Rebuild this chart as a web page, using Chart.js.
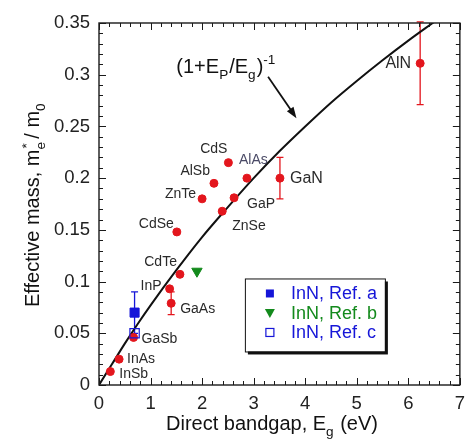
<!DOCTYPE html>
<html>
<head>
<meta charset="utf-8">
<script src="https://cdn.jsdelivr.net/npm/chart.js@4.4.1/dist/chart.umd.min.js"></script>
<style>
  html, body { margin: 0; padding: 0; background: #fff; }
  #wrap { width: 473px; height: 440px; }
</style>
</head>
<body>
<div id="wrap"><canvas id="chart"></canvas></div>
<script>
// Electron effective mass vs direct bandgap
const materials = ['InSb', 'InAs', 'GaSb', 'InP', 'GaAs', 'CdTe', 'CdSe', 'ZnTe', 'AlSb', 'ZnSe', 'GaP', 'CdS', 'AlAs', 'GaN', 'AlN'];
const bandgap = [0.22, 0.39, 0.67, 1.37, 1.40, 1.57, 1.51, 2.00, 2.23, 2.39, 2.62, 2.51, 2.87, 3.51, 6.23];
const mass = [0.013, 0.025, 0.046, 0.093, 0.079, 0.107, 0.148, 0.180, 0.195, 0.168, 0.181, 0.215, 0.200, 0.200, 0.311];
const massErr = [0, 0, 0, 0, 0.011, 0, 0, 0, 0, 0, 0, 0, 0, 0.02, 0.04];

const innLabels = ['InN, Ref. a', 'InN, Ref. b', 'InN, Ref. c'];
const innBandgap = [0.69, 1.90, 0.69];
const innMass = [0.07, 0.11, 0.05];
const innErr = [0.02, 0, 0];

// (1+Ep/Eg)^-1 curve
const curveEg = [0, 0.25, 0.5, 0.75, 1, 1.5, 2, 2.5, 3, 3.5, 4, 4.5, 5, 5.5, 6, 6.5];
const curveMass = [0, 0.020, 0.040, 0.059, 0.077, 0.111, 0.143, 0.172, 0.200, 0.226, 0.250, 0.273, 0.294, 0.314, 0.333, 0.351];

const xTicks = [0, 1, 2, 3, 4, 5, 6, 7];
const yTicks = [0, 0.05, 0.1, 0.15, 0.2, 0.25, 0.3, 0.35];

// label placement: [dx, dy, align] in px from the point
const labelPos = {
  InSb: [9, 3, 'left'], InAs: [8, 0, 'left'], GaSb: [8, 2, 'left'],
  InP: [-8, -3, 'right'], GaAs: [9, 6, 'left'], CdTe: [-3, -12, 'right'],
  CdSe: [-3, -8, 'right'], ZnTe: [-6, -5, 'right'], AlSb: [-4, -12, 'right'],
  ZnSe: [10, 15, 'left'], GaP: [13, 6, 'left'], CdS: [-1, -13, 'right'],
  AlAs: [-8, -18, 'left'], GaN: [10, 0, 'left'], AlN: [-9, 0, 'right']
};

const RED = '#e3161d';
const BLUE = '#1616d8';
const GREEN = '#138a1c';
const FONT = 'Liberation Sans, Arial, sans-serif';

// text with sub/superscripts; parts = [[text, 'sub'|'sup'|''], ...]
function drawRich(ctx, parts, x, y, size) {
  for (const [t, k] of parts) {
    ctx.font = (k ? size * 0.68 : size) + 'px ' + FONT;
    const dy = k === 'sub' ? size * 0.3 : k === 'sup' ? -size * 0.42 : 0;
    ctx.fillText(t, x, y + dy);
    x += ctx.measureText(t).width + (k === 'sub' ? 1 : 0);
  }
}

const decor = {
  id: 'decor',
  beforeDatasetsDraw(chart) {
    const { ctx, scales: { x, y } } = chart;
    ctx.save();
    ctx.lineWidth = 1.3;
    const bars = (xs, ys, es, col) => {
      xs.forEach((xv, i) => {
        if (!es[i]) return;
        const px = x.getPixelForValue(xv);
        const top = y.getPixelForValue(ys[i] + es[i]);
        const bot = y.getPixelForValue(ys[i] - es[i]);
        ctx.strokeStyle = typeof col === 'string' ? col : col[i];
        ctx.beginPath();
        ctx.moveTo(px, top); ctx.lineTo(px, bot);
        ctx.moveTo(px - 3.5, top); ctx.lineTo(px + 3.5, top);
        ctx.moveTo(px - 3.5, bot); ctx.lineTo(px + 3.5, bot);
        ctx.stroke();
      });
    };
    bars(bandgap, mass, massErr, RED);
    bars(innBandgap, innMass, innErr, [BLUE, GREEN, BLUE]);
    ctx.restore();
  },
  afterDatasetsDraw(chart) {
    const { ctx, chartArea: a, scales: { x, y } } = chart;
    ctx.save();

    // frame and inward ticks on all four sides
    ctx.strokeStyle = '#1a1a1a';
    ctx.lineWidth = 1.4;
    ctx.strokeRect(a.left, a.top, a.right - a.left, a.bottom - a.top);
    ctx.lineWidth = 1;
    ctx.beginPath();
    for (let i = 0; i <= 35; i++) {
      const len = i % 5 === 0 ? 7 : 4;
      const px = Math.round(x.getPixelForValue(i * 0.2)) + 0.5;
      ctx.moveTo(px, a.bottom); ctx.lineTo(px, a.bottom - len);
      ctx.moveTo(px, a.top); ctx.lineTo(px, a.top + len);
      const py = Math.round(y.getPixelForValue(i * 0.01)) + 0.5;
      ctx.moveTo(a.left, py); ctx.lineTo(a.left + len, py);
      ctx.moveTo(a.right, py); ctx.lineTo(a.right - len, py);
    }
    ctx.stroke();

    // material names
    ctx.textBaseline = 'middle';
    materials.forEach((m, i) => {
      const [dx, dy, align] = labelPos[m];
      ctx.font = ((m === 'GaN' || m === 'AlN') ? 16 : 14) + 'px ' + FONT;
      ctx.textAlign = align;
      ctx.fillStyle = m === 'AlAs' ? '#4a4a66' : '#2a2a2a';
      ctx.fillText(m, x.getPixelForValue(bandgap[i]) + dx, y.getPixelForValue(mass[i]) + dy);
    });

    // formula label and arrow
    ctx.fillStyle = '#111';
    ctx.textAlign = 'left';
    ctx.textBaseline = 'alphabetic';
    drawRich(ctx, [['(1+E', ''], ['P', 'sub'], ['/E', ''], ['g', 'sub'], [')', ''], ['-1', 'sup']],
      x.getPixelForValue(1.5), y.getPixelForValue(0.302), 20);
    const x0 = x.getPixelForValue(3.28), y0 = y.getPixelForValue(0.298);
    const x1 = x.getPixelForValue(3.83), y1 = y.getPixelForValue(0.258);
    const ang = Math.atan2(y1 - y0, x1 - x0);
    ctx.strokeStyle = '#111';
    ctx.lineWidth = 1.8;
    ctx.beginPath();
    ctx.moveTo(x0, y0);
    ctx.lineTo(x1 - 8 * Math.cos(ang), y1 - 8 * Math.sin(ang));
    ctx.stroke();
    ctx.beginPath();
    ctx.moveTo(x1, y1);
    ctx.lineTo(x1 - 11 * Math.cos(ang) + 4 * Math.sin(ang), y1 - 11 * Math.sin(ang) - 4 * Math.cos(ang));
    ctx.lineTo(x1 - 11 * Math.cos(ang) - 4 * Math.sin(ang), y1 - 11 * Math.sin(ang) + 4 * Math.cos(ang));
    ctx.closePath();
    ctx.fill();

    // legend box with drop shadow
    const lx = x.getPixelForValue(2.83), ly = y.getPixelForValue(0.103);
    const lw = 140, lh = 73;
    ctx.fillStyle = '#111';
    ctx.fillRect(lx + 3, ly + 3, lw, lh);
    ctx.fillStyle = '#fff';
    ctx.fillRect(lx, ly, lw, lh);
    ctx.strokeStyle = '#111';
    ctx.lineWidth = 1;
    ctx.strokeRect(lx + 0.5, ly + 0.5, lw, lh);
    const colors = [BLUE, GREEN, BLUE];
    innLabels.forEach((t, i) => {
      const cy = ly + 15 + i * 19.5, cx = lx + 25;
      ctx.fillStyle = colors[i];
      ctx.strokeStyle = colors[i];
      if (i === 0) {
        ctx.fillRect(cx - 4, cy - 4, 8, 8);
      } else if (i === 1) {
        ctx.beginPath();
        ctx.moveTo(cx - 5, cy - 4); ctx.lineTo(cx + 5, cy - 4); ctx.lineTo(cx, cy + 5);
        ctx.closePath(); ctx.fill();
      } else {
        ctx.lineWidth = 1.2;
        ctx.strokeRect(cx - 4, cy - 4, 8, 8);
      }
      ctx.font = '18px ' + FONT;
      ctx.textBaseline = 'middle';
      ctx.fillText(t, lx + 46, cy + 1);
    });
    ctx.restore();
  },
  afterDraw(chart) {
    const { ctx, chartArea: a } = chart;
    ctx.save();
    ctx.fillStyle = '#111';
    ctx.textBaseline = 'alphabetic';
    ctx.textAlign = 'left';
    drawRich(ctx, [['Direct bandgap, E', ''], ['g', 'sub'], [' (eV)', '']], a.left + 67, 430, 20);

    // rotated y title; the star sits above the subscript e
    const yt = [['Effective mass, m', ''], ['e', 'sub'], ['*', 'sup'], [' / m', ''], ['0', 'sub']];
    ctx.translate(39, 307);
    ctx.rotate(-Math.PI / 2);
    let px = 0;
    for (const [t, k] of yt) {
      ctx.font = (k ? 20 * 0.68 : 20) + 'px ' + FONT;
      const dy = k === 'sub' ? 6 : k === 'sup' ? -8.5 : 0;
      ctx.fillText(t, px + (k === 'sup' ? 1 : 0), dy);
      if (t !== 'e') px += ctx.measureText(t).width;
    }
    ctx.restore();
  }
};

new Chart(document.getElementById('chart'), {
  type: 'scatter',
  data: {
    datasets: [
      {
        label: 'materials',
        data: bandgap.map((v, i) => ({ x: v, y: mass[i] })),
        pointStyle: 'circle', pointRadius: 4, pointBackgroundColor: RED, pointBorderColor: RED,
        order: 1
      },
      {
        label: innLabels[0],
        data: [{ x: innBandgap[0], y: innMass[0] }],
        pointStyle: 'rect', pointRadius: 6.4, pointBackgroundColor: BLUE, pointBorderColor: BLUE,
        order: 0
      },
      {
        label: innLabels[1],
        data: [{ x: innBandgap[1], y: innMass[1] }],
        pointStyle: 'triangle', rotation: 180, pointRadius: 6, pointBackgroundColor: GREEN, pointBorderColor: GREEN,
        order: 0
      },
      {
        label: innLabels[2],
        data: [{ x: innBandgap[2], y: innMass[2] }],
        pointStyle: 'rect', pointRadius: 6.6, pointBackgroundColor: 'rgba(0,0,0,0)', pointBorderColor: BLUE,
        pointBorderWidth: 1.2, order: 0
      },
      {
        type: 'line',
        label: 'curve',
        data: curveEg.map((v, i) => ({ x: v, y: curveMass[i] })),
        borderColor: '#111', borderWidth: 2, pointRadius: 0,
        cubicInterpolationMode: 'monotone', fill: false, order: 5
      }
    ]
  },
  options: {
    responsive: true,
    maintainAspectRatio: false,
    animation: false,
    events: [],
    layout: { padding: { top: 23, right: 9, left: 0, bottom: 0 } },
    plugins: { legend: { display: false }, tooltip: { enabled: false } },
    scales: {
      x: {
        type: 'linear', min: 0, max: 7,
        afterBuildTicks: s => { s.ticks = xTicks.map(v => ({ value: v })); },
        afterFit: s => { s.height = 55; },
        ticks: { color: '#222', font: { size: 18.5, family: FONT }, padding: 8 },
        grid: { display: false, drawTicks: false },
        border: { display: false }
      },
      y: {
        type: 'linear', min: 0, max: 0.35,
        afterBuildTicks: s => { s.ticks = yTicks.map(v => ({ value: v })); },
        afterFit: s => { s.width = 99; },
        ticks: {
          color: '#222', font: { size: 18.5, family: FONT }, padding: 9,
          callback: v => String(+v.toFixed(2))
        },
        grid: { display: false, drawTicks: false },
        border: { display: false }
      }
    }
  },
  plugins: [decor]
});
</script>
</body>
</html>
